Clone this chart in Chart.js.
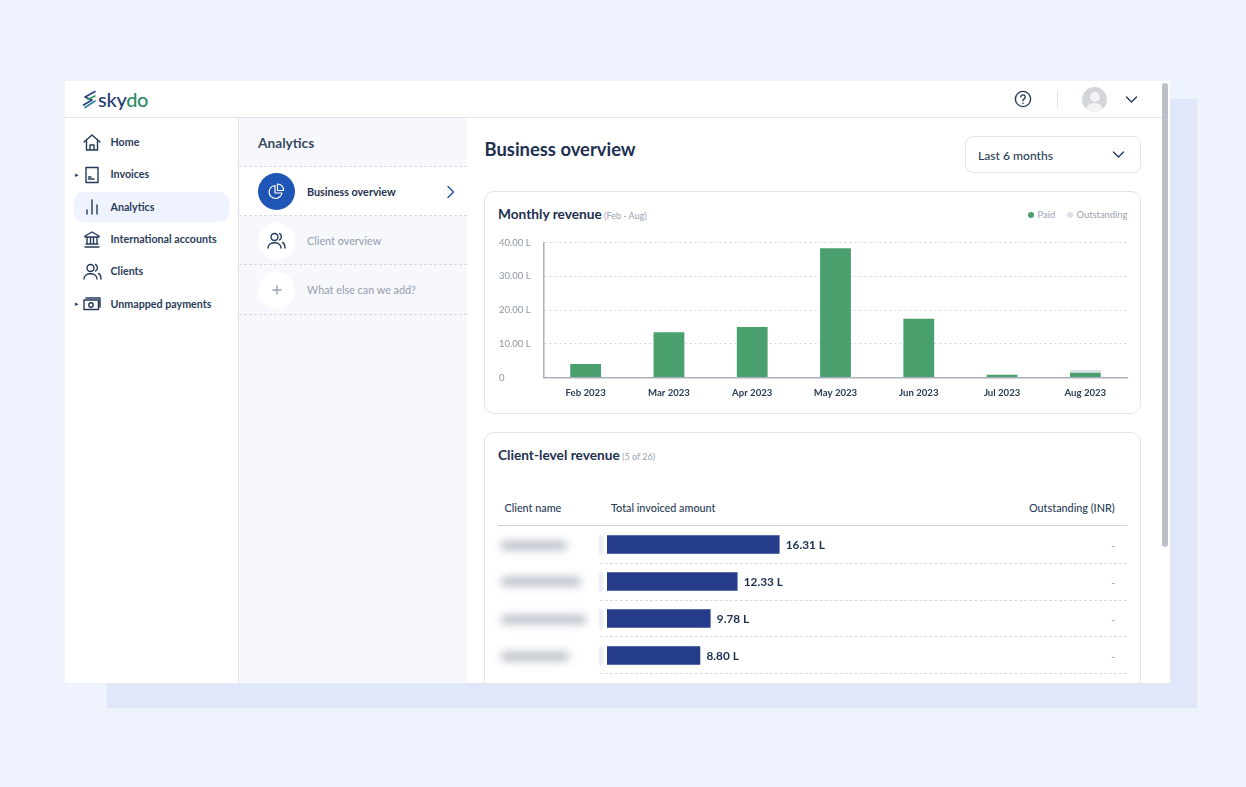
<!DOCTYPE html>
<html>
<head>
<meta charset="utf-8">
<title>Skydo analytics</title>
<script src="https://cdn.jsdelivr.net/npm/chart.js@4/dist/chart.umd.min.js"></script>
<style>
  html, body { margin: 0; padding: 0; }
  body { width: 1246px; height: 787px; background: #eef3fe; position: relative; overflow: hidden; font-family: Lato, sans-serif; color: #1f3350; }
  .abs, .t { position: absolute; }
  .t { white-space: nowrap; line-height: 1; }
  .nav { font-size: 10.7px; font-weight: 700; color: #2a3c58; }
  .muted { color: #9aa3b1; }
  .card { position: absolute; background: #fff; border: 1px solid #dfe4ec; border-radius: 10px; box-sizing: border-box; }
  .title { font-size: 13.7px; font-weight: 700; color: #1d3050; }
  .sub { font-size: 9px; color: #9aa3b1; font-weight: 400; margin-left: -1px; }
  .rule { position: absolute; height: 0; border-top: 1px dashed #d6dbe4; }
  .blur { position: absolute; height: 9px; background: #b9bec8; border-radius: 4px; filter: blur(4px); }
  .edge { position: absolute; left: 600px; width: 2px; height: 20px; background: #d8dbe1; filter: blur(1.5px); }
  svg { position: absolute; fill: none; stroke: #24395a; stroke-width: 1.4; stroke-linecap: round; stroke-linejoin: round; }
  canvas { position: absolute; }
</style>
</head>
<body>
  <div class="abs" style="left:107px;top:99px;width:1090px;height:609px;background:#dfe7f9"></div>
  <div class="abs" style="left:65px;top:81px;width:1105px;height:602px;background:#fff;overflow:hidden" id="app"></div>

  <!-- header -->
  <div class="abs" style="left:65px;top:117px;width:1097px;height:1px;background:#dde2ea"></div>
  <svg style="left:82px;top:90px;stroke-width:1.6" width="15" height="19" viewBox="0 0 15 19">
    <path d="M13 1.5 L3 7 L10 10 L1.5 15" stroke="#24407a"/><path d="M13 6 L6 9.5" stroke="#2f9a62"/><path d="M13 11 L3 17.5" stroke="#2f7fa0"/>
  </svg>
  <div class="t" style="left:98px;top:89px;font-size:20px;font-weight:500;letter-spacing:-.3px;color:#1f3a70">sky<span style="color:#2c8a63">do</span></div>
  <svg style="left:1014px;top:90px" width="18" height="18" viewBox="0 0 18 18"><circle cx="9" cy="9" r="7.6"/><path d="M6.8 7 a2.2 2.2 0 1 1 3.4 1.9 c-.8.5-1.2 1-1.2 1.8"/><path d="M9 13.2 v.2"/></svg>
  <div class="abs" style="left:1057px;top:90px;width:1px;height:18px;background:#dfe3ea"></div>
  <div class="abs" style="left:1082px;top:87px;width:25px;height:25px;border-radius:50%;background:#d3d6da;overflow:hidden">
    <div class="abs" style="left:7.5px;top:5px;width:10px;height:10px;border-radius:50%;background:#f3f4f5"></div>
    <div class="abs" style="left:4px;top:16px;width:17px;height:14px;border-radius:50%;background:#f3f4f5"></div>
  </div>
  <svg style="left:1125px;top:95px" width="13" height="9" viewBox="0 0 13 9"><path d="M1.5 2 L6.5 7 L11.5 2"/></svg>
  <div class="abs" style="left:1162px;top:83px;width:6px;height:464px;background:#bcc0c6;border-radius:3px"></div>

  <!-- sidebar -->
  <div class="abs" style="left:238px;top:118px;width:229px;height:565px;background:#f6f8fd;border-left:1px solid #e1e5ec;box-sizing:border-box"></div>
  <div class="abs" style="left:74px;top:192px;width:155px;height:30px;background:#eef3fe;border-radius:9px"></div>

  <svg style="left:83px;top:134px" width="18" height="17" viewBox="0 0 18 17"><path d="M1 8 L9 1 L17 8 M3.5 6.5 V16 H14.5 V6.5 M7 16 V11 H11 V16"/></svg>
  <div class="t nav" style="left:110.5px;top:137px">Home</div>
  <div class="t" style="left:75px;top:171px;font-size:7px;color:#2a3c58">&#9656;</div>
  <svg style="left:85px;top:166px" width="14" height="18" viewBox="0 0 14 18"><path d="M1 1.5 H13 V16.5 H1 Z M3.5 11 H6 M3.5 13 H9"/></svg>
  <div class="t nav" style="left:110.5px;top:169px">Invoices</div>
  <svg style="left:86px;top:199px" width="12" height="16" viewBox="0 0 12 16"><path d="M1 11 V15 M6 1 V15 M11 6 V15"/></svg>
  <div class="t nav" style="left:110.5px;top:201.5px">Analytics</div>
  <svg style="left:84px;top:231px" width="16" height="17" viewBox="0 0 16 17"><path d="M1 5 L8 1 L15 5 V6 H1 Z M3 6 V13 M6.5 6 V13 M9.5 6 V13 M13 6 V13 M2 13 H14 M1 16 H15"/></svg>
  <div class="t nav" style="left:110.5px;top:234px">International accounts</div>
  <svg style="left:83px;top:263px" width="19" height="17" viewBox="0 0 19 17"><circle cx="7.5" cy="5" r="3.5"/><path d="M1 16 C1 9 14 9 14 16 M12.5 1.5 C15 2.5 15 7 12.5 8 M15.5 10.5 C17.5 11.5 18 13.5 18 16"/></svg>
  <div class="t nav" style="left:110.5px;top:266px">Clients</div>
  <div class="t" style="left:75px;top:300px;font-size:7px;color:#2a3c58">&#9656;</div>
  <svg style="left:83px;top:296px" width="18" height="15" viewBox="0 0 18 15"><path d="M1 4 H15.5 V13.5 H1 Z M3 2 H17 V11"/><circle cx="8" cy="9" r="2.2"/></svg>
  <div class="t nav" style="left:110.5px;top:298.5px">Unmapped payments</div>

  <!-- analytics submenu -->
  <div class="t" style="left:258px;top:136px;font-size:13.7px;font-weight:700;color:#3a4a63">Analytics</div>
  <div class="abs" style="left:240px;top:167px;width:227px;height:49px;background:#fff"></div>
  <div class="rule" style="left:239px;top:166px;width:228px"></div>
  <div class="rule" style="left:239px;top:215px;width:228px"></div>
  <div class="rule" style="left:239px;top:264px;width:228px"></div>
  <div class="rule" style="left:239px;top:314px;width:228px"></div>
  <div class="abs" style="left:258px;top:173px;width:37px;height:37px;border-radius:50%;background:#1f56b5"></div>
  <svg style="left:268px;top:183px;stroke:#fff;stroke-width:1.2" width="17" height="17" viewBox="0 0 17 17"><path d="M7 2.5 A6.5 6.5 0 1 0 14 10 H7 Z M9.5 1 A6 6 0 0 1 15.5 7.5 H9.5 Z"/></svg>
  <div class="t" style="left:307px;top:186.5px;font-size:10.8px;font-weight:700;color:#1f3350">Business overview</div>
  <svg style="left:446px;top:185px;stroke:#1f4a99" width="9" height="14" viewBox="0 0 9 14"><path d="M2 1.5 L7.5 7 L2 12.5"/></svg>
  <div class="abs" style="left:258px;top:223px;width:37px;height:37px;border-radius:50%;background:#fff"></div>
  <svg style="left:267px;top:232px" width="19" height="17" viewBox="0 0 19 17"><circle cx="7.5" cy="5" r="3.5"/><path d="M1 16 C1 9 14 9 14 16 M12.5 1.5 C15 2.5 15 7 12.5 8 M15.5 10.5 C17.5 11.5 18 13.5 18 16"/></svg>
  <div class="t muted" style="left:307px;top:235.5px;font-size:10.8px;font-weight:500">Client overview</div>
  <div class="abs" style="left:258px;top:272px;width:37px;height:37px;border-radius:50%;background:#fff"></div>
  <svg style="left:272px;top:285px;stroke:#9aa3b1" width="10" height="10" viewBox="0 0 10 10"><path d="M5 1 V9 M1 5 H9"/></svg>
  <div class="t muted" style="left:307px;top:284.5px;font-size:10.8px;font-weight:500">What else can we add?</div>

  <!-- main header -->
  <div class="t" style="left:484.5px;top:140px;font-size:18.4px;font-weight:700;color:#1d3050">Business overview</div>
  <div class="abs" style="left:965px;top:136px;width:176px;height:37px;box-sizing:border-box;border:1px solid #dfe4ec;border-radius:8px"></div>
  <div class="t" style="left:978px;top:150px;font-size:12.1px;font-weight:500;color:#2a3c58">Last 6 months</div>
  <svg style="left:1112px;top:150px" width="13" height="9" viewBox="0 0 13 9"><path d="M1.5 2 L6.5 7 L11.5 2"/></svg>

  <!-- monthly revenue card -->
  <div class="card" style="left:484px;top:191px;width:657px;height:223px"></div>
  <div class="t title" style="left:498px;top:207px">Monthly revenue <span class="sub">(Feb - Aug)</span></div>
  <div class="abs" style="left:1028px;top:212px;width:6px;height:6px;border-radius:50%;background:#4aa06d"></div>
  <div class="t muted" style="left:1037.5px;top:210px;font-size:9.4px">Paid</div>
  <div class="abs" style="left:1067px;top:212px;width:6px;height:6px;border-radius:50%;background:#dde0e6"></div>
  <div class="t muted" style="left:1076.5px;top:210px;font-size:9.4px">Outstanding</div>
  <canvas id="monthlyChart" style="left:490px;top:232px" width="645" height="175"></canvas>

  <!-- client revenue card -->
  <div class="abs" style="left:484px;top:432px;width:657px;height:251px;overflow:hidden">
    <div class="card" style="left:0;top:0;width:657px;height:280px"></div>
  </div>
  <div class="t title" style="left:498px;top:448px">Client-level revenue <span class="sub">(5 of 26)</span></div>
  <div class="t" style="left:504.5px;top:502.5px;font-size:10.8px;font-weight:500;color:#2a3c58">Client name</div>
  <div class="t" style="left:611px;top:502.5px;font-size:10.8px;font-weight:500;color:#2a3c58">Total invoiced amount</div>
  <div class="t" style="left:1029px;top:502.5px;font-size:10.8px;font-weight:500;color:#2a3c58">Outstanding (INR)</div>
  <div class="abs" style="left:498px;top:525px;width:629px;height:1px;background:#ccd1da"></div>
  <div class="rule" style="left:600px;top:563px;width:527px"></div>
  <div class="rule" style="left:600px;top:600px;width:527px"></div>
  <div class="rule" style="left:600px;top:636px;width:527px"></div>
  <div class="rule" style="left:600px;top:673px;width:527px"></div>
  <div class="blur" style="left:501px;top:541px;width:66px"></div>
  <div class="blur" style="left:501px;top:577px;width:80px"></div>
  <div class="blur" style="left:501px;top:615px;width:85px"></div>
  <div class="blur" style="left:501px;top:652px;width:68px"></div>
  <div class="edge" style="top:535px"></div>
  <div class="edge" style="top:572px"></div>
  <div class="edge" style="top:609px"></div>
  <div class="edge" style="top:646px"></div>
  <div class="t muted" style="left:1111px;top:540px;font-size:11px">-</div>
  <div class="t muted" style="left:1111px;top:577px;font-size:11px">-</div>
  <div class="t muted" style="left:1111px;top:614px;font-size:11px">-</div>
  <div class="t muted" style="left:1111px;top:651px;font-size:11px">-</div>
  <canvas id="clientChart" style="left:607px;top:526px" width="320" height="148"></canvas>

<script>
const MONTHS = ["Feb 2023","Mar 2023","Apr 2023","May 2023","Jun 2023","Jul 2023","Aug 2023"];
const PAID = [4.0, 13.4, 15.0, 38.3, 17.4, 0.8, 1.4];
const OUTSTANDING = [0, 0, 0, 0, 0, 0, 0.8];
const Y_TICKS = [0, 10, 20, 30, 40];
const CLIENTS = ["Client 1","Client 2","Client 3","Client 4"];
const INVOICED = [16.31, 12.33, 9.78, 8.80];

const AXIS_COLOR = "#aab0bd";
const LABEL_FONT = "Lato, sans-serif";

// ====== Monthly revenue ======
new Chart(document.getElementById("monthlyChart"), {
  type: "bar",
  data: {
    labels: MONTHS,
    datasets: [
      { label: "Paid", data: PAID, backgroundColor: "#4aa06d", barPercentage: 0.37, categoryPercentage: 1 },
      { label: "Outstanding", data: OUTSTANDING, backgroundColor: "#dde0e6", barPercentage: 0.37, categoryPercentage: 1 }
    ]
  },
  options: {
    responsive: false,
    animation: false,
    layout: { padding: { top: 10.5, right: 8, left: 9, bottom: 0 } },
    plugins: { legend: { display: false }, tooltip: { enabled: false } },
    scales: {
      x: {
        stacked: true,
        grid: { display: false },
        border: { color: AXIS_COLOR, width: 1.5 },
        ticks: { color: "#2a3c58", font: { family: LABEL_FONT, size: 9.6, weight: "700" }, padding: 2, maxRotation: 0 },
        afterFit: s => { s.height = 29.5; s.paddingLeft = 0; s.paddingRight = 0; }
      },
      y: {
        stacked: true,
        min: 0,
        max: 40,
        afterBuildTicks: s => { s.ticks = Y_TICKS.map(v => ({ value: v })); },
        grid: { color: "#cfd4de", drawTicks: false, tickLength: 0 },
        border: { color: AXIS_COLOR, width: 1.5, dash: [2, 3], display: true },
        ticks: {
          color: "#8d96a5",
          font: { family: LABEL_FONT, size: 9.5 },
          crossAlign: "far",
          padding: 14,
          callback: v => v === 0 ? "0" : v.toFixed(2) + " L"
        },
        afterFit: s => { s.width = 45; s.paddingTop = 0; s.paddingBottom = 0; }
      }
    }
  }
});

// ====== Client-level revenue ======
const barLabels = {
  id: "barLabels",
  afterDatasetsDraw(chart) {
    const ctx = chart.ctx;
    ctx.save();
    ctx.font = "700 11.8px " + LABEL_FONT;
    ctx.fillStyle = "#1d3050";
    ctx.textBaseline = "middle";
    chart.getDatasetMeta(0).data.forEach((bar, i) => {
      ctx.fillText(INVOICED[i].toFixed(2) + " L", bar.x + 6.5, bar.y + 0.5);
    });
    ctx.restore();
  }
};

new Chart(document.getElementById("clientChart"), {
  type: "bar",
  plugins: [barLabels],
  data: {
    labels: CLIENTS,
    datasets: [{ data: INVOICED, backgroundColor: "#253c8a", barThickness: 18 }]
  },
  options: {
    indexAxis: "y",
    responsive: false,
    animation: false,
    plugins: { legend: { display: false }, tooltip: { enabled: false } },
    scales: {
      x: { display: false, min: 0, max: 30.3 },
      y: { display: false }
    }
  }
});
</script>
</body>
</html>
